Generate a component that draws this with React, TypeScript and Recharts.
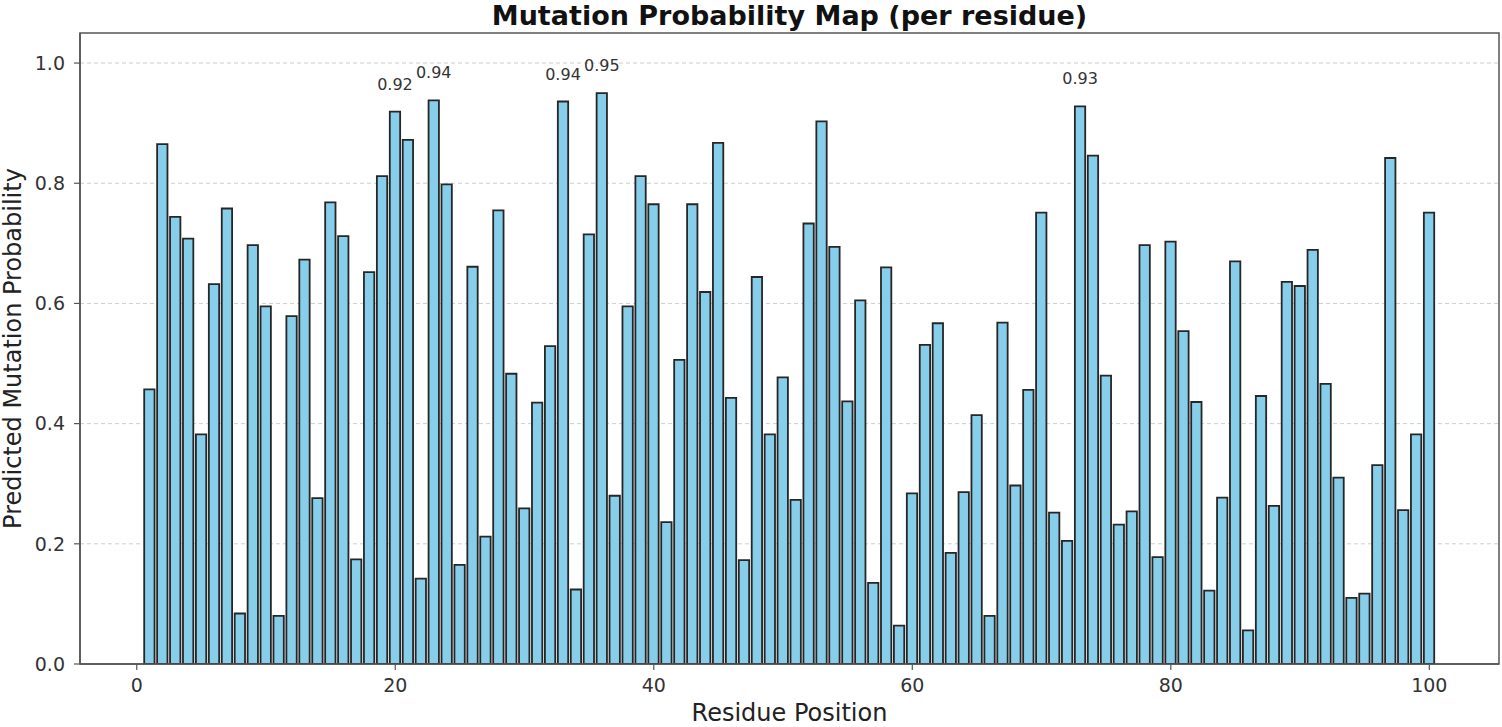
import { BarChart, Bar, XAxis, YAxis, CartesianGrid, LabelList, ReferenceArea } from "recharts";

// predicted mutation probability for residues 1..100
const probabilities = [
  0.457, 0.865, 0.744, 0.708, 0.382, 0.632, 0.758, 0.084, 0.697, 0.595,
  0.080, 0.579, 0.673, 0.276, 0.768, 0.712, 0.174, 0.652, 0.812, 0.919,
  0.872, 0.142, 0.938, 0.798, 0.165, 0.661, 0.212, 0.755, 0.483, 0.259,
  0.435, 0.529, 0.936, 0.124, 0.715, 0.950, 0.280, 0.595, 0.812, 0.765,
  0.236, 0.506, 0.765, 0.619, 0.867, 0.443, 0.173, 0.644, 0.382, 0.477,
  0.273, 0.733, 0.903, 0.694, 0.437, 0.605, 0.135, 0.660, 0.064, 0.284,
  0.531, 0.567, 0.185, 0.286, 0.414, 0.080, 0.568, 0.297, 0.456, 0.751,
  0.252, 0.205, 0.928, 0.846, 0.480, 0.232, 0.254, 0.697, 0.178, 0.703,
  0.554, 0.436, 0.122, 0.277, 0.670, 0.056, 0.446, 0.263, 0.636, 0.629,
  0.689, 0.466, 0.310, 0.110, 0.117, 0.331, 0.842, 0.256, 0.382, 0.751,
];
const residues = probabilities.map((_, i) => i + 1);

const xTicks = [0, 20, 40, 60, 80, 100];
const yTicks = [0, 0.2, 0.4, 0.6, 0.8, 1.0];
const xDomain = [-4.39, 105.39];
const yDomain = [0, 1.05];
const labelThreshold = 0.91;

const data = residues.map((r, i) => ({ residue: r, prob: probabilities[i] }));

const FONT = "'DejaVu Sans', sans-serif";
const AXIS = "#555";

const PeakLabel = (props: any) => {
  const { x, y, width, value } = props;
  if (value < labelThreshold) return null;
  return (
    <text
      x={x + width / 2}
      y={y - 22}
      textAnchor="middle"
      fontSize={16}
      fontFamily={FONT}
      fill="#333"
    >
      {value.toFixed(2)}
    </text>
  );
};

export default function App() {
  const tickStyle = { fontSize: 19, fill: "#333", fontFamily: FONT };
  return (
    <div style={{ position: "absolute", left: 0, top: 0, width: 1502, height: 727, background: "#fff" }}>
      <BarChart
        width={1502}
        height={727}
        data={data}
        margin={{ top: 33, right: 3, bottom: 23, left: 0 }}
      >
        <CartesianGrid
          vertical={false}
          strokeDasharray="4 3"
          stroke="#cfcfcf"
          horizontalValues={yTicks}
        />
        {/* axes frame */}
        <ReferenceArea
          x1={xDomain[0]}
          x2={xDomain[1]}
          y1={yDomain[0]}
          y2={yDomain[1]}
          fill="none"
          fillOpacity={0}
          stroke={AXIS}
          strokeWidth={1.5}
          strokeOpacity={1}
          ifOverflow="visible"
        />
        <XAxis
          dataKey="residue"
          type="number"
          domain={xDomain}
          ticks={xTicks}
          allowDataOverflow
          height={40}
          tick={tickStyle}
          tickSize={6}
          tickMargin={9}
          axisLine={{ stroke: AXIS, strokeWidth: 1.5 }}
          tickLine={{ stroke: AXIS, strokeWidth: 1.2 }}
        />
        <YAxis
          type="number"
          domain={yDomain}
          ticks={yTicks}
          allowDataOverflow
          width={80}
          tick={tickStyle}
          tickFormatter={(v: number) => v.toFixed(1)}
          tickSize={6}
          tickMargin={9}
          axisLine={{ stroke: AXIS, strokeWidth: 1.5 }}
          tickLine={{ stroke: AXIS, strokeWidth: 1.2 }}
        />
        <Bar
          dataKey="prob"
          barSize={10.34}
          fill="#87CEEB"
          stroke="#262626"
          strokeWidth={1.8}
          isAnimationActive={false}
        >
          <LabelList dataKey="prob" content={PeakLabel} />
        </Bar>
      </BarChart>
      <svg
        width={1502}
        height={727}
        style={{ position: "absolute", left: 0, top: 0, pointerEvents: "none" }}
      >
        <text x={789.5} y={25} textAnchor="middle" fontSize={27} fontWeight="bold" fontFamily={FONT} fill="#111">
          Mutation Probability Map (per residue)
        </text>
        <text x={789.5} y={721} textAnchor="middle" fontSize={24} fontFamily={FONT} fill="#222">
          Residue Position
        </text>
        <text
          transform="translate(21,348.5) rotate(-90)"
          textAnchor="middle"
          fontSize={24}
          fontFamily={FONT}
          fill="#222"
        >
          Predicted Mutation Probability
        </text>
      </svg>
    </div>
  );
}
